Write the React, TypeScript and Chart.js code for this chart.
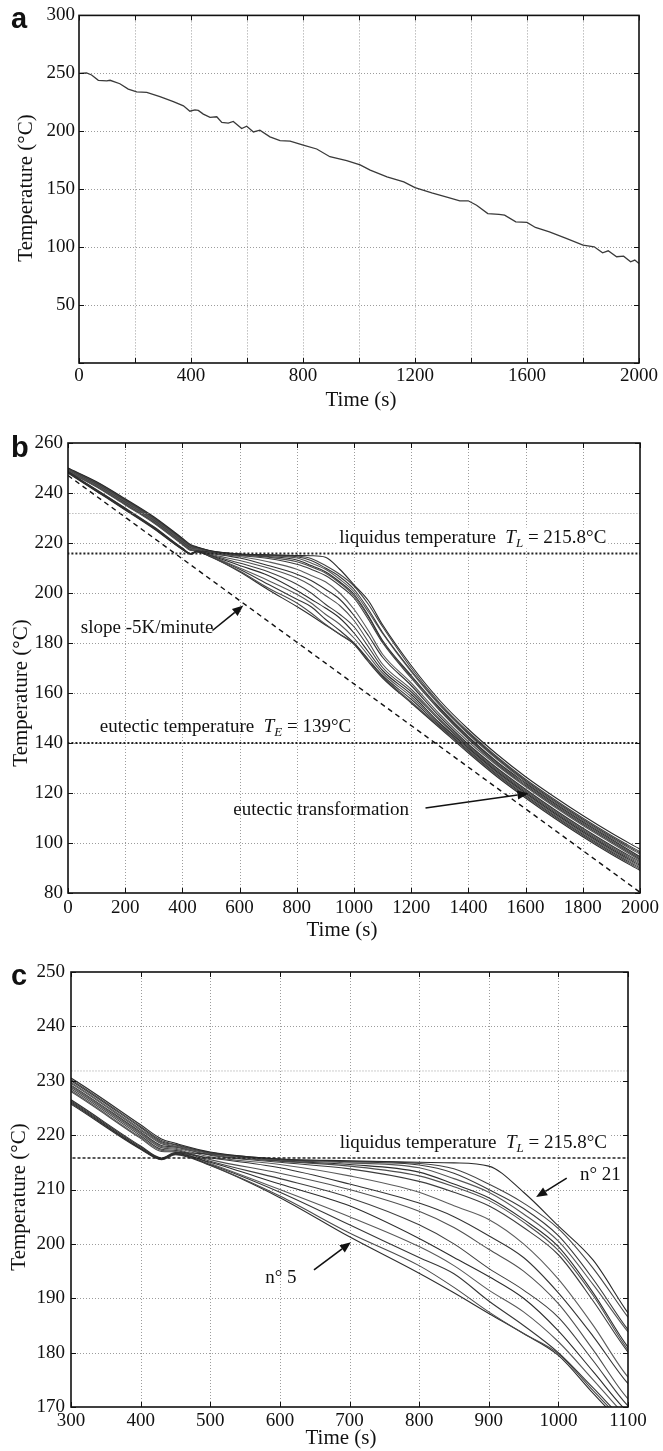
import React, { useEffect, useRef } from 'react';
import { Chart, registerables } from 'chart.js';

Chart.register(...registerables);

const SERIF = "'Liberation Serif', 'Times New Roman', Times, serif";
const SANS = "'Liberation Sans', Arial, Helvetica, sans-serif";
const PAGE_W = 663;

// ---------------- Panel a : single cooling curve ----------------
const timeA = [0, 27, 45, 69, 99, 111, 146, 176, 206, 242, 289, 337, 373, 396, 414, 426, 444, 468, 492, 510, 533, 551, 581, 599, 623, 646, 682, 718, 754, 801, 849, 896, 956, 1004, 1040, 1100, 1160, 1200, 1260, 1320, 1360, 1390, 1420, 1460, 1500, 1520, 1560, 1600, 1630, 1680, 1740, 1800, 1840, 1870, 1890, 1920, 1945, 1970, 1985, 2000];
const tempA = [250, 250.3, 248.6, 244, 243.5, 244, 241, 236.4, 234, 233.5, 229.8, 225.6, 222, 217.3, 218.5, 218, 214.8, 212, 212.5, 207.6, 207, 208.5, 202.3, 204.3, 199.4, 201, 195.2, 192, 191.5, 188, 184.7, 178, 174.7, 171, 166.4, 160.6, 156.3, 151.4, 146.8, 142.8, 140, 140, 136.2, 129, 128.2, 127.6, 121.8, 121.3, 117, 113.2, 107.5, 101.7, 100.3, 95.1, 96.8, 91.7, 92.2, 87.4, 88.8, 85.9];

// ---------------- Panels b and c : many cooling curves ----------------
const timesBC = [0, 100, 200, 300, 400, 430, 450, 500, 600, 700, 800, 850, 900, 950, 1000, 1050, 1100, 1200, 1300, 1400, 1500, 1600, 1700, 1800, 1900, 2000];
const curve01 = [250.0, 244.5, 237.7, 230.5, 221.9, 219.3, 218.5, 216.9, 215.6, 215.3, 215.0, 214.9, 214.3, 209.5, 203.3, 197.0, 187.3, 171.0, 157.0, 145.5, 135.5, 126.5, 118.5, 111.0, 104.0, 97.5];
const curve02 = [249.8, 244.3, 237.4, 230.2, 221.6, 219.0, 218.3, 216.8, 215.6, 215.2, 214.8, 213.8, 211.0, 207.5, 202.8, 195.5, 186.5, 170.0, 156.0, 144.5, 134.5, 125.5, 117.5, 110.0, 103.0, 96.5];
const curve03 = [249.7, 244.0, 237.2, 230.0, 221.4, 218.8, 218.2, 216.7, 215.5, 215.1, 214.5, 213.0, 210.0, 206.5, 201.5, 193.5, 184.2, 169.0, 155.5, 144.0, 134.0, 125.0, 117.0, 109.5, 102.5, 96.0];
const curve04 = [249.5, 243.8, 236.9, 229.7, 221.1, 218.6, 218.0, 216.6, 215.4, 214.9, 214.0, 212.0, 209.5, 205.5, 200.5, 192.5, 183.8, 168.5, 155.0, 143.5, 133.5, 124.5, 116.5, 109.0, 102.0, 95.5];
const curve05 = [248.6, 241.3, 234.0, 226.5, 218.0, 215.8, 216.8, 216.5, 215.3, 214.6, 213.2, 211.0, 208.5, 204.5, 199.5, 191.0, 181.0, 167.0, 154.0, 142.5, 132.5, 124.0, 116.0, 108.5, 101.5, 94.5];
const curve06 = [249.4, 243.6, 236.7, 229.5, 220.9, 218.4, 217.9, 216.4, 215.2, 214.3, 212.5, 210.5, 208.0, 204.0, 198.8, 190.5, 180.5, 166.5, 153.5, 142.0, 132.0, 123.5, 115.5, 108.0, 101.0, 94.0];
const curve07 = [249.2, 243.4, 236.4, 229.2, 220.6, 218.1, 217.8, 216.3, 215.0, 213.8, 211.5, 209.5, 207.0, 203.0, 198.0, 189.5, 180.1, 166.0, 153.0, 141.5, 131.5, 123.0, 115.0, 107.5, 100.5, 93.5];
const curve08 = [249.0, 243.2, 236.2, 229.0, 220.4, 217.9, 217.6, 216.0, 214.6, 212.5, 209.5, 207.0, 204.5, 200.0, 193.5, 185.0, 175.5, 164.0, 151.5, 140.5, 131.0, 122.5, 114.5, 107.0, 100.0, 93.0];
const curve09 = [248.4, 241.1, 233.8, 226.3, 217.8, 215.7, 216.7, 215.8, 214.0, 211.0, 207.5, 205.0, 201.5, 197.5, 191.0, 183.0, 174.3, 163.0, 150.5, 139.5, 130.0, 121.5, 113.5, 106.0, 99.0, 92.5];
const curve10 = [248.9, 243.0, 236.0, 228.8, 220.2, 217.7, 217.4, 215.5, 213.0, 210.0, 206.0, 203.0, 199.0, 195.0, 189.0, 180.5, 171.5, 161.5, 149.5, 139.0, 129.5, 121.0, 113.0, 105.5, 98.5, 92.0];
const curve11 = [248.7, 242.8, 235.7, 228.5, 219.9, 217.4, 217.2, 215.2, 212.0, 208.5, 203.5, 200.0, 195.5, 191.5, 186.5, 178.5, 170.2, 160.5, 149.0, 138.5, 129.0, 120.5, 112.5, 105.0, 98.0, 91.5];
const curve12 = [248.3, 240.9, 233.6, 226.1, 217.6, 215.6, 216.6, 215.0, 211.0, 207.0, 201.0, 197.5, 194.0, 190.0, 184.0, 176.5, 169.0, 159.5, 148.0, 138.0, 128.5, 120.0, 112.0, 104.5, 97.5, 91.0];
const curve13 = [248.6, 242.6, 235.4, 228.2, 219.6, 217.2, 217.0, 214.8, 210.0, 205.0, 199.5, 196.0, 191.5, 187.5, 182.0, 175.0, 168.0, 158.5, 147.5, 137.5, 128.0, 119.5, 111.5, 104.0, 97.0, 90.5];
const curve14 = [248.2, 240.8, 233.4, 225.9, 217.5, 215.6, 216.5, 214.6, 209.5, 203.5, 197.5, 194.5, 189.5, 185.0, 180.0, 173.5, 167.0, 157.5, 147.0, 137.0, 127.5, 119.0, 111.0, 103.5, 96.5, 90.0];
const curve15 = [248.5, 242.4, 235.2, 228.0, 219.4, 217.0, 216.9, 214.5, 208.8, 202.0, 196.0, 192.0, 187.5, 183.5, 179.8, 173.0, 166.5, 156.5, 146.5, 136.5, 127.0, 118.5, 110.5, 103.0, 96.0, 89.5];
const curve16 = [248.0, 240.6, 233.2, 225.7, 217.4, 215.5, 216.4, 214.4, 208.5, 201.3, 194.6, 191.0, 187.2, 183.5, 179.5, 172.5, 166.0, 156.0, 146.0, 136.0, 126.5, 118.0, 110.0, 102.5, 95.5, 89.0];
const curvesBC = [curve01, curve02, curve03, curve04, curve05, curve06, curve07, curve08, curve09, curve10, curve11, curve12, curve13, curve14, curve15, curve16];
const curveColors = ['#2a2a2a', '#444444', '#3a3a3a', '#555555', '#2f2f2f', '#4d4d4d', '#3c3c3c', '#5c5c5c', '#333333', '#505050', '#3f3f3f', '#2c2c2c', '#585858', '#363636', '#4a4a4a', '#2e2e2e'];

// reference lines
const liquidusTemp = 215.8;
const eutecticLineTemp = 140;
const guideTemp = 231.8;
const slopeTimes = [0, 2000];
const slopeTemps = [247, 80.3];

const toPts = (xs: number[], ys: number[]) => xs.map((x, i) => ({ x, y: ys[i] }));

const hLine = (yv: number, color: string, width: number, dash: number[]) => ({
  data: [{ x: -100, y: yv }, { x: 2100, y: yv }],
  borderColor: color,
  borderWidth: width,
  borderDash: dash,
  pointRadius: 0,
  tension: 0,
  fill: false,
  clip: 0,
});

const curveDatasets = () =>
  curvesBC.map((c, i) => ({
    data: toPts(timesBC, c),
    borderColor: curveColors[i],
    borderWidth: 1.1,
    pointRadius: 0,
    cubicInterpolationMode: 'monotone',
    fill: false,
    clip: 0,
  }));

type Part = { text: string; italic?: boolean; sub?: boolean };
type Decor = {
  letter: { text: string; x: number; y: number };
  xTitle: { text: string; x: number; y: number };
  yTitle: { text: string; x: number; y: number };
  texts: { x: number; y: number; parts: Part[]; bg?: boolean }[];
  arrows: { x1: number; y1: number; x2: number; y2: number }[];
};

const fontFor = (p: Part, size: number) =>
  `${p.italic ? 'italic ' : ''}${p.sub ? Math.round(size * 0.7) : size}px ${SERIF}`;

function makeDecor(d: Decor) {
  return {
    id: 'decor',
    beforeDatasetsDraw(chart: any) {
      const { ctx, chartArea: ca, scales } = chart;
      const x = scales.x;
      const y = scales.y;
      ctx.save();
      ctx.strokeStyle = '#9c9c9c';
      ctx.lineWidth = 1;
      ctx.setLineDash([1, 2]);
      for (const t of x.ticks) {
        const px = Math.round(x.getPixelForValue(t.value)) + 0.5;
        if (px <= ca.left + 2 || px >= ca.right - 2) continue;
        ctx.beginPath();
        ctx.moveTo(px, ca.top);
        ctx.lineTo(px, ca.bottom);
        ctx.stroke();
      }
      for (const t of y.ticks) {
        const py = Math.round(y.getPixelForValue(t.value)) + 0.5;
        if (py <= ca.top + 2 || py >= ca.bottom - 2) continue;
        ctx.beginPath();
        ctx.moveTo(ca.left, py);
        ctx.lineTo(ca.right, py);
        ctx.stroke();
      }
      ctx.restore();
    },
    afterDraw(chart: any) {
      const { ctx, chartArea: ca, scales } = chart;
      const x = scales.x;
      const y = scales.y;
      ctx.save();
      // inward tick marks
      ctx.strokeStyle = '#111';
      ctx.lineWidth = 1;
      ctx.setLineDash([]);
      const L = 5;
      for (const t of x.ticks) {
        const px = Math.round(x.getPixelForValue(t.value)) + 0.5;
        ctx.beginPath();
        ctx.moveTo(px, ca.bottom);
        ctx.lineTo(px, ca.bottom - L);
        ctx.moveTo(px, ca.top);
        ctx.lineTo(px, ca.top + L);
        ctx.stroke();
      }
      for (const t of y.ticks) {
        const py = Math.round(y.getPixelForValue(t.value)) + 0.5;
        ctx.beginPath();
        ctx.moveTo(ca.left, py);
        ctx.lineTo(ca.left + L, py);
        ctx.moveTo(ca.right, py);
        ctx.lineTo(ca.right - L, py);
        ctx.stroke();
      }
      // box
      ctx.lineWidth = 1.6;
      ctx.strokeStyle = '#111';
      ctx.strokeRect(ca.left, ca.top, ca.right - ca.left, ca.bottom - ca.top);

      // annotations text
      const size = 19;
      for (const tx of d.texts) {
        const px = x.getPixelForValue(tx.x);
        const py = y.getPixelForValue(tx.y);
        const widths = tx.parts.map((p) => {
          ctx.font = fontFor(p, size);
          return ctx.measureText(p.text).width;
        });
        const total = widths.reduce((a, b) => a + b, 0);
        if (tx.bg) {
          ctx.fillStyle = '#ffffff';
          ctx.fillRect(px - 2, py - size * 0.55, total + 4, size * 1.1);
        }
        let cx = px;
        ctx.fillStyle = '#111';
        ctx.textBaseline = 'middle';
        ctx.textAlign = 'left';
        tx.parts.forEach((p, i) => {
          ctx.font = fontFor(p, size);
          ctx.fillText(p.text, cx, py + (p.sub ? size * 0.3 : 0));
          cx += widths[i];
        });
      }
      // arrows
      ctx.strokeStyle = '#111';
      ctx.fillStyle = '#111';
      ctx.lineWidth = 1.6;
      for (const a of d.arrows) {
        const x1 = x.getPixelForValue(a.x1);
        const y1 = y.getPixelForValue(a.y1);
        const x2 = x.getPixelForValue(a.x2);
        const y2 = y.getPixelForValue(a.y2);
        const ang = Math.atan2(y2 - y1, x2 - x1);
        const HL = 11;
        const HW = 4.5;
        const bx = x2 - HL * Math.cos(ang);
        const by = y2 - HL * Math.sin(ang);
        ctx.beginPath();
        ctx.moveTo(x1, y1);
        ctx.lineTo(bx, by);
        ctx.stroke();
        ctx.beginPath();
        ctx.moveTo(x2, y2);
        ctx.lineTo(bx + HW * Math.sin(ang), by - HW * Math.cos(ang));
        ctx.lineTo(bx - HW * Math.sin(ang), by + HW * Math.cos(ang));
        ctx.closePath();
        ctx.fill();
      }
      // axis titles
      ctx.fillStyle = '#111';
      ctx.font = `21px ${SERIF}`;
      ctx.textAlign = 'center';
      ctx.textBaseline = 'middle';
      ctx.fillText(d.xTitle.text, d.xTitle.x, d.xTitle.y);
      ctx.save();
      ctx.translate(d.yTitle.x, d.yTitle.y);
      ctx.rotate(-Math.PI / 2);
      ctx.fillText(d.yTitle.text, 0, 0);
      ctx.restore();
      // panel letter
      ctx.font = `bold 29px ${SANS}`;
      ctx.textAlign = 'left';
      ctx.textBaseline = 'alphabetic';
      ctx.fillText(d.letter.text, d.letter.x, d.letter.y);
      ctx.restore();
    },
  };
}

type Spec = {
  top: number;
  height: number;
  area: { left: number; top: number; right: number; bottom: number };
  xr: { min: number; max: number; step: number; labelEvery: number; pad: number };
  yr: { min: number; max: number; step: number; hideMin: boolean; pad: number };
  datasets: any[];
  decor: Decor;
};

function buildConfig(s: Spec): any {
  const tickFont = { family: SERIF, size: 19 };
  return {
    type: 'line',
    data: { datasets: s.datasets },
    options: {
      responsive: false,
      animation: false,
      devicePixelRatio: 1,
      events: [],
      layout: { padding: { left: 0, top: s.area.top, right: PAGE_W - s.area.right, bottom: 0 } },
      plugins: { legend: { display: false }, tooltip: { enabled: false } },
      elements: { point: { radius: 0 }, line: { tension: 0 } },
      scales: {
        x: {
          type: 'linear',
          min: s.xr.min,
          max: s.xr.max,
          afterFit: (sc: any) => {
            sc.height = s.height - s.area.bottom;
          },
          ticks: {
            stepSize: s.xr.step,
            autoSkip: false,
            maxRotation: 0,
            minRotation: 0,
            padding: s.xr.pad,
            font: tickFont,
            color: '#111',
            callback: (v: any) => (Math.round(Number(v)) % s.xr.labelEvery === 0 ? String(Math.round(Number(v))) : ''),
          },
          grid: { display: false, drawTicks: false },
          border: { display: false },
        },
        y: {
          type: 'linear',
          min: s.yr.min,
          max: s.yr.max,
          afterFit: (sc: any) => {
            sc.width = s.area.left;
          },
          ticks: {
            stepSize: s.yr.step,
            autoSkip: false,
            padding: s.yr.pad,
            font: tickFont,
            color: '#111',
            callback: (v: any) => (s.yr.hideMin && Number(v) === s.yr.min ? '' : String(Math.round(Number(v)))),
          },
          grid: { display: false, drawTicks: false },
          border: { display: false },
        },
      },
    },
    plugins: [makeDecor(s.decor)],
  };
}

const liquidusParts: Part[] = [
  { text: 'liquidus temperature  ' },
  { text: 'T', italic: true },
  { text: 'L', italic: true, sub: true },
  { text: ' = 215.8\u00b0C' },
];
const eutecticParts: Part[] = [
  { text: 'eutectic temperature  ' },
  { text: 'T', italic: true },
  { text: 'E', italic: true, sub: true },
  { text: ' = 139\u00b0C' },
];

const specA: Spec = {
  top: 0,
  height: 425,
  area: { left: 79, top: 15, right: 639, bottom: 363 },
  xr: { min: 0, max: 2000, step: 200, labelEvery: 400, pad: 2 },
  yr: { min: 0, max: 300, step: 50, hideMin: true, pad: 4 },
  datasets: [
    {
      data: toPts(timeA, tempA),
      borderColor: '#3a3a3a',
      borderWidth: 1.3,
      pointRadius: 0,
      tension: 0,
      fill: false,
      clip: 0,
    },
  ],
  decor: {
    letter: { text: 'a', x: 11, y: 28 },
    xTitle: { text: 'Time (s)', x: 361, y: 400 },
    yTitle: { text: 'Temperature (\u00b0C)', x: 26, y: 188 },
    texts: [],
    arrows: [],
  },
};

const specB: Spec = {
  top: 425,
  height: 520,
  area: { left: 68, top: 18, right: 642, bottom: 468 },
  xr: { min: 0, max: 2000, step: 200, labelEvery: 200, pad: 4 },
  yr: { min: 80, max: 260, step: 20, hideMin: false, pad: 5 },
  datasets: [
    hLine(liquidusTemp, '#222222', 2, [2, 2]),
    hLine(eutecticLineTemp, '#222222', 2, [2, 2]),
    hLine(guideTemp, '#9c9c9c', 1, [1, 2]),
    {
      data: toPts(slopeTimes, slopeTemps),
      borderColor: '#111111',
      borderWidth: 1.4,
      borderDash: [5, 4],
      pointRadius: 0,
      tension: 0,
      fill: false,
      clip: 0,
    },
    ...curveDatasets(),
  ],
  decor: {
    letter: { text: 'b', x: 11, y: 32 },
    xTitle: { text: 'Time (s)', x: 342, y: 505 },
    yTitle: { text: 'Temperature (\u00b0C)', x: 21, y: 268 },
    texts: [
      { x: 948, y: 222, parts: liquidusParts, bg: true },
      { x: 45, y: 186, parts: [{ text: 'slope -5K/minute' }] },
      { x: 111, y: 146.4, parts: eutecticParts },
      { x: 578, y: 113.2, parts: [{ text: 'eutectic transformation' }] },
    ],
    arrows: [
      { x1: 505, y1: 185, x2: 613, y2: 195 },
      { x1: 1250, y1: 114, x2: 1610, y2: 119.8 },
    ],
  },
};

const specC: Spec = {
  top: 945,
  height: 506,
  area: { left: 71, top: 27, right: 628, bottom: 462 },
  xr: { min: 300, max: 1100, step: 100, labelEvery: 100, pad: 3 },
  yr: { min: 170, max: 250, step: 10, hideMin: false, pad: 6 },
  datasets: [
    hLine(liquidusTemp, '#222222', 1.6, [3, 2]),
    hLine(guideTemp, '#9c9c9c', 1, [1, 2]),
    ...curveDatasets(),
  ],
  decor: {
    letter: { text: 'c', x: 11, y: 40 },
    xTitle: { text: 'Time (s)', x: 341, y: 493 },
    yTitle: { text: 'Temperature (\u00b0C)', x: 19.5, y: 252 },
    texts: [
      { x: 686, y: 218.55, parts: liquidusParts, bg: true },
      { x: 1031, y: 212.7, parts: [{ text: 'n\u00b0 21' }] },
      { x: 579, y: 193.7, parts: [{ text: 'n\u00b0 5' }] },
    ],
    arrows: [
      { x1: 1012, y1: 212.1, x2: 968, y2: 208.6 },
      { x1: 649, y1: 195.2, x2: 702, y2: 200.3 },
    ],
  },
};

function Panel({ spec }: { spec: Spec }) {
  const ref = useRef<HTMLCanvasElement | null>(null);
  useEffect(() => {
    if (!ref.current) return;
    const chart = new Chart(ref.current, buildConfig(spec));
    return () => chart.destroy();
  }, [spec]);
  return (
    <canvas
      ref={ref}
      width={PAGE_W}
      height={spec.height}
      style={{ position: 'absolute', left: 0, top: spec.top, width: PAGE_W, height: spec.height }}
    />
  );
}

export default function App() {
  return (
    <div style={{ position: 'absolute', left: 0, top: 0, width: PAGE_W, height: 1451, background: '#ffffff' }}>
      <Panel spec={specA} />
      <Panel spec={specB} />
      <Panel spec={specC} />
    </div>
  );
}
